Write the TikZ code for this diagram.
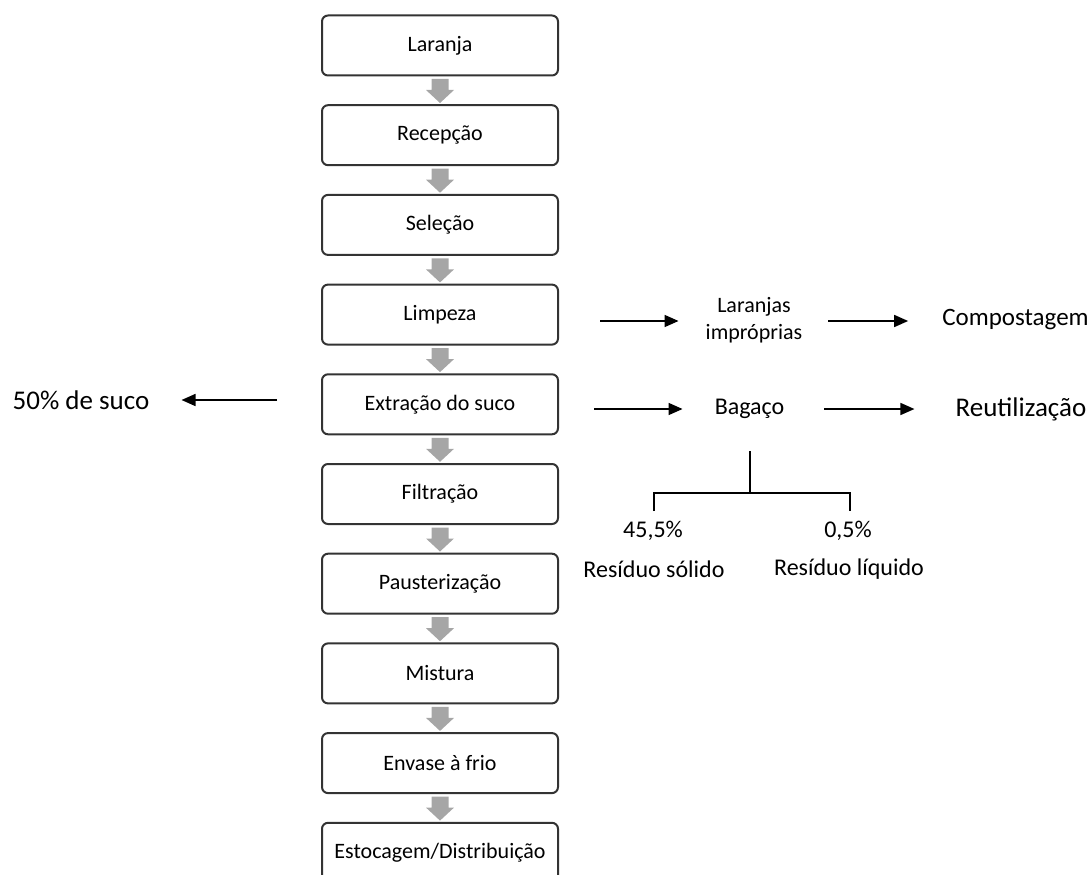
\documentclass[tikz,border=0pt]{standalone}
\usepackage{fontspec}
\setmainfont{Carlito}
\usetikzlibrary{arrows.meta}

\definecolor{boxgray}{HTML}{333333}
\definecolor{arrowgray}{HTML}{A6A6A6}

\tikzset{
	stepbox/.style={draw=boxgray, line width=2pt, rounded corners=6pt, minimum width=236pt, minimum height=60pt, inner sep=0pt, font=\fontsize{22}{27}\selectfont},
	flowarrow/.style={line width=1.6pt, -{Triangle[length=14pt,width=12pt]}},
	sidetext/.style={inner sep=0pt, align=center, font=\fontsize{22}{27}\selectfont},
	wastetext/.style={inner sep=0pt, font=\fontsize{24}{28}\selectfont}
}

\begin{document}
\begin{tikzpicture}[x=1pt,y=-1pt]
	
	\useasboundingbox (0,0) rectangle (1090,875);
	\clip (0,0) rectangle (1090,875);
	
	% Draw process steps
	\node[stepbox] (laranja) at (440,45.5) {Laranja};
	\node[stepbox] (recepcao) at (440,135.2) {Recepção};
	\node[stepbox] (selecao) at (440,224.9) {Seleção};
	\node[stepbox] (limpeza) at (440,314.6) {Limpeza};
	\node[stepbox] (extracao) at (440,404.3) {Extração do suco};
	\node[stepbox] (filtracao) at (440,494.0) {Filtração};
	\node[stepbox] (pausterizacao) at (440,583.7) {Pausterização};
	\node[stepbox] (mistura) at (440,673.4) {Mistura};
	\node[stepbox] (envase) at (440,763.1) {Envase à frio};
	\node[stepbox] (estocagem) at (440,852.8) {Estocagem/Distribuição};
	
	% Draw gray block arrows
	\foreach \a in {laranja,recepcao,selecao,limpeza,extracao,filtracao,pausterizacao,mistura,envase}
		\fill[arrowgray, shift={(\a.south)}] (-8.5,2.5) -- (8.5,2.5) -- (8.5,13.5) -- (14,13.5) -- (0,26.5) -- (-14,13.5) -- (-8.5,13.5) -- cycle;
	
	% Draw juice output
	\node[inner sep=0pt, font=\fontsize{27}{32}\selectfont] (suco) at (81,400) {50\% de suco};
	\coordinate (sucostart) at (277,400);
	\draw[flowarrow, shorten >=32pt] (sucostart) -- (suco.east);
	
	% Draw unfit oranges
	\coordinate (impstart) at (600,321);
	\node[sidetext] (improprias) at (754,320.5) {Laranjas\\impróprias};
	\node[inner sep=0pt, font=\fontsize{25}{30}\selectfont] (compostagem) at (1015.5,320) {Compostagem};
	\draw[flowarrow] (impstart) -- ([xshift=-27pt]improprias.west |- impstart);
	\draw[flowarrow, shorten <=26pt, shorten >=34pt] (improprias.east |- impstart) -- (compostagem.west |- impstart);
	
	% Draw bagasse
	\coordinate (bagstart) at (594,409);
	\node[inner sep=0pt, font=\fontsize{24}{28}\selectfont] (bagaco) at (749.5,409) {Bagaço};
	\node[inner sep=0pt, font=\fontsize{27}{32}\selectfont] (reutilizacao) at (1021,409) {Reutilização};
	\draw[flowarrow, shorten >=32pt] (bagstart) -- (bagaco.west);
	\draw[flowarrow, shorten <=40pt, shorten >=41pt] (bagaco.east) -- (reutilizacao.west);
	
	% Draw residue split
	\draw[line width=1.3pt] (750,451) -- (750,493);
	\draw[line width=1.3pt] (654,511) -- (654,493) -- (850,493) -- (850,511);
	\node[wastetext] (solidopct) at (653,531) {45,5\%};
	\node[wastetext] (liquidopct) at (848,531) {0,5\%};
	\node[wastetext] (solido) at (654,569) {Resíduo sólido};
	\node[wastetext] (liquido) at (849,569) {Resíduo líquido};
	
\end{tikzpicture}
\end{document}
